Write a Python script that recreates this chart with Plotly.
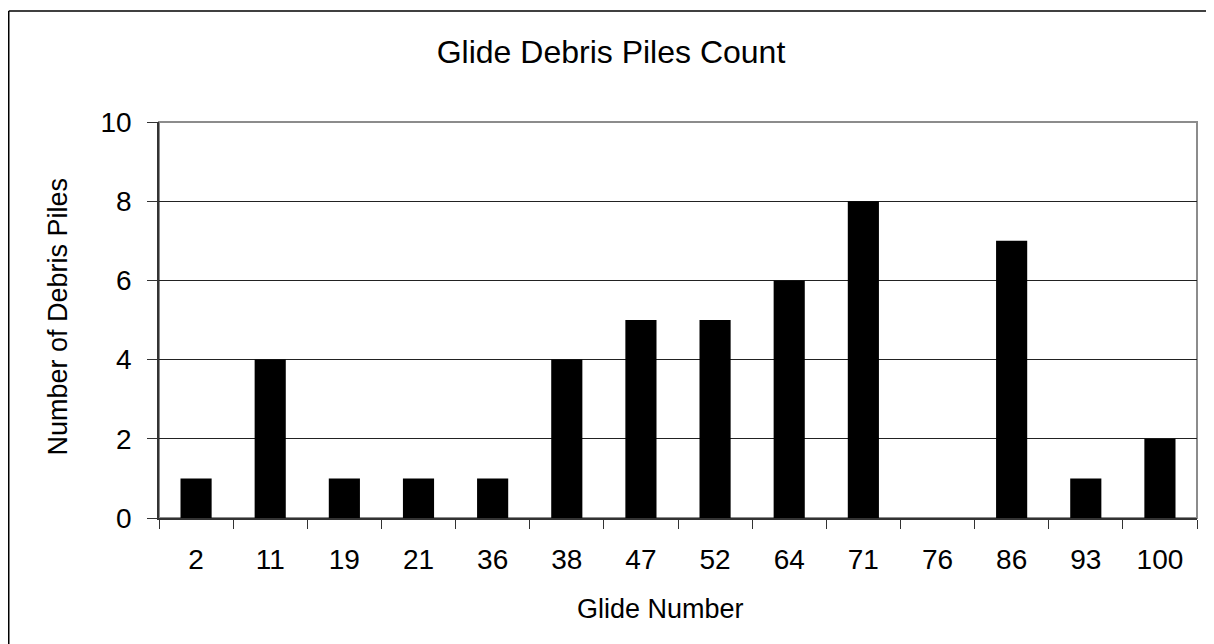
import plotly.graph_objects as go

glides = ["2", "11", "19", "21", "36", "38", "47", "52", "64", "71", "76", "86", "93", "100"]
piles = [1, 4, 1, 1, 1, 4, 5, 5, 6, 8, 0, 7, 1, 2]
y_ticks = [0, 2, 4, 6, 8, 10]

font = "Liberation Sans, Arial, sans-serif"

# the page body keeps its 8px margin, so the figure is 8px smaller
W, H = 1206, 636
L, R, T, B = 151, 17, 114, 126
pw, ph = W - L - R, H - T - B

fig = go.Figure(go.Bar(
    x=glides,
    y=piles,
    marker=dict(color="black", line=dict(width=0)),
))

# gray plot-area frame (top/right), axes drawn dark on left/bottom
fig.add_shape(type="rect", xref="paper", yref="paper", x0=0, x1=1, y0=0, y1=1,
              line=dict(color="#8c8c8c", width=2), layer="below")
# outer chart border, only left and top edges show
bx = (0.75 - L) / pw
by = 1 + (T - 3) / ph
fig.add_shape(type="line", xref="paper", yref="paper", x0=bx, x1=bx, y0=-0.4, y1=by,
              line=dict(color="black", width=1.5))
fig.add_shape(type="line", xref="paper", yref="paper", x0=bx, x1=1.05, y0=by, y1=by,
              line=dict(color="black", width=1.5))

# axis titles as annotations for exact placement
fig.add_annotation(text="Glide Number", xref="paper", yref="paper",
                   x=(652 - L) / pw, y=-90.5 / ph, xanchor="center", yanchor="middle",
                   showarrow=False, font=dict(size=27))
fig.add_annotation(text="Number of Debris Piles", xref="paper", yref="paper",
                   x=(49.5 - L) / pw, y=(T + ph - 450) / ph, xanchor="center", yanchor="bottom",
                   textangle=-90, showarrow=False, font=dict(size=27))

fig.update_layout(
    width=W, height=H,
    margin=dict(l=L, r=R, t=T, b=B),
    paper_bgcolor="white", plot_bgcolor="white",
    bargap=0.58,
    showlegend=False,
    font=dict(family=font, color="black", size=26),
    title=dict(text="Glide Debris Piles Count", x=0.5, xanchor="center",
               y=1 - 44 / H, yanchor="middle", font=dict(size=32)),
    xaxis=dict(
        type="category", tickson="boundaries", ticks="outside", ticklen=9,
        tickcolor="#333", showline=True, linecolor="#333", linewidth=1.5,
        showgrid=False, tickfont=dict(size=28), ticklabelstandoff=16,
    ),
    yaxis=dict(
        range=[0, 10], tickvals=y_ticks, ticks="outside", ticklen=10,
        tickcolor="#333", showline=True, linecolor="#333", linewidth=1.5,
        showgrid=True, gridcolor="#222", gridwidth=1, zeroline=False,
        tickfont=dict(size=28), ticklabelstandoff=10,
    ),
)

fig.write_html("out.html")
